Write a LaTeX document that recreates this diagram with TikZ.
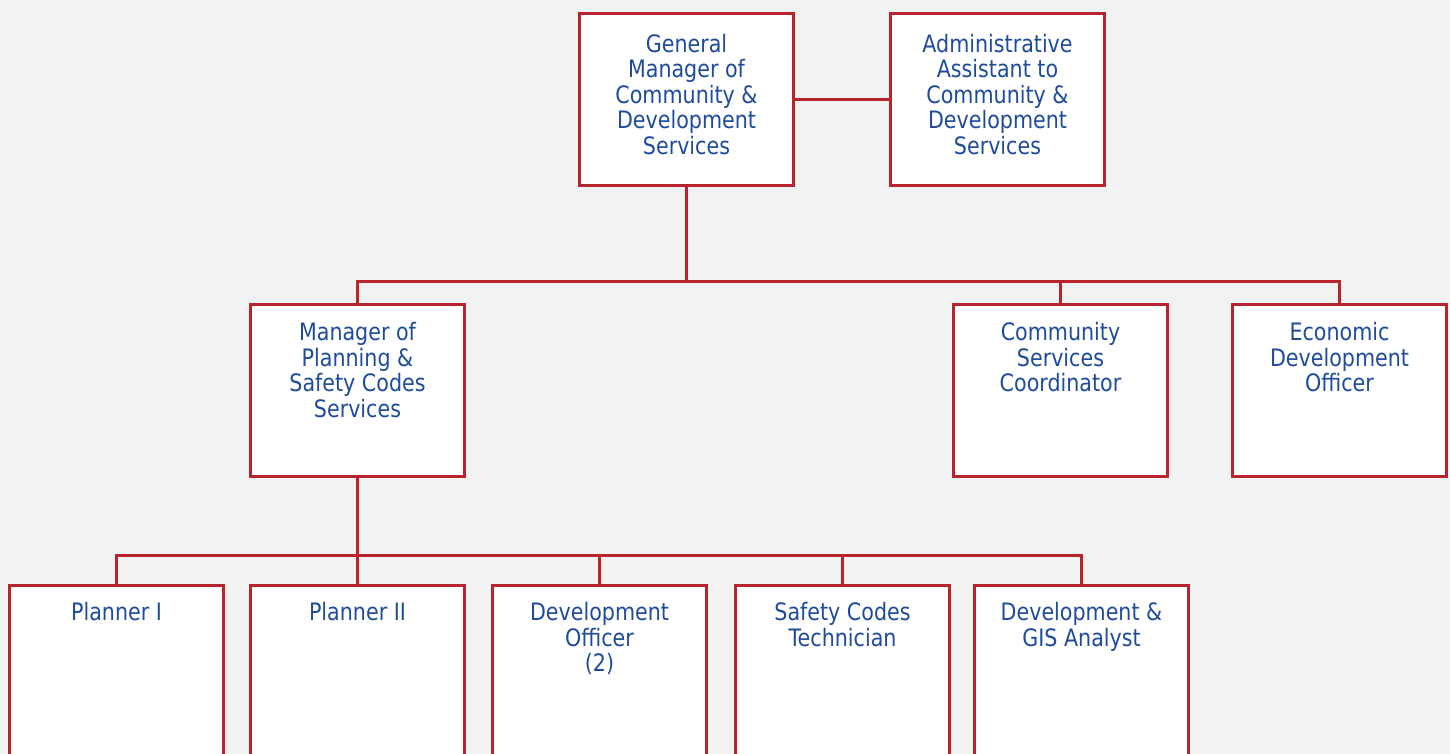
\documentclass[tikz,border=0pt]{standalone}
\usepackage{fontspec}
\setmainfont{DejaVu Sans}[FakeStretch=0.86]
\definecolor{boxred}{HTML}{B8242E}
\definecolor{txtblue}{HTML}{1F4B9C}
\definecolor{bg}{HTML}{F1F2F2}
\begin{document}
\begin{tikzpicture}[x=1pt,y=-1pt,
  box/.style={draw=boxred, line width=3pt, fill=white, minimum width=214pt, minimum height=172pt, inner sep=0pt, anchor=north west},
  tallbox/.style={box, minimum height=200pt},
  lbl/.style={text=txtblue, font=\fontsize{24}{25.5}\selectfont, align=center, anchor=north, inner sep=0pt},
  conn/.style={draw=boxred, line width=3pt}]
\useasboundingbox (0,0) rectangle (1450,754);
\fill[bg] (0,0) rectangle (1450,754);
\clip (0,0) rectangle (1450,754);
% boxes
\node[box] (gm) at (578,12) {};
\node[box] (aa) at (889,12) {};
\node[box] (mp) at (249,303) {};
\node[box] (cs) at (952,303) {};
\node[box] (eco) at (1231,303) {};
\node[tallbox] (p1) at (8,584) {};
\node[tallbox] (p2) at (249,584) {};
\node[tallbox] (do) at (491,584) {};
\node[tallbox] (sct) at (734,584) {};
\node[tallbox] (gis) at (973,584) {};
% labels
\node[lbl] (gm-t) at ([yshift=-22pt]gm.north) {\rule{0pt}{18pt}General\\Manager of\\Community \&\\Development\\Services};
\node[lbl] (aa-t) at ([yshift=-22pt]aa.north) {\rule{0pt}{18pt}Administrative\\Assistant to\\Community \&\\Development\\Services};
\node[lbl] (mp-t) at ([yshift=-19.5pt]mp.north) {\rule{0pt}{18pt}Manager of\\Planning \&\\Safety Codes\\Services};
\node[lbl] (cs-t) at ([yshift=-19.5pt]cs.north) {\rule{0pt}{18pt}Community\\Services\\Coordinator};
\node[lbl] (eco-t) at ([yshift=-19.5pt]eco.north) {\rule{0pt}{18pt}Economic\\Development\\Officer};
\node[lbl] (p1-t) at ([yshift=-18.5pt]p1.north) {\rule{0pt}{18pt}Planner I};
\node[lbl] (p2-t) at ([yshift=-18.5pt]p2.north) {\rule{0pt}{18pt}Planner II};
\node[lbl] (do-t) at ([yshift=-18.5pt]do.north) {\rule{0pt}{18pt}Development\\Officer\\(2)};
\node[lbl] (sct-t) at ([yshift=-18.5pt]sct.north) {\rule{0pt}{18pt}Safety Codes\\Technician};
\node[lbl] (gis-t) at ([yshift=-18.5pt]gis.north) {\rule{0pt}{18pt}Development \&\\GIS Analyst};
% connectors
\coordinate (bus1) at (0,281);
\coordinate (bus2) at (0,555);
\draw[conn] (gm.east) -- (aa.west);
\draw[conn] (gm.south) -- (gm.south |- bus1);
\draw[conn, line cap=rect] (mp.north) -- (mp.north |- bus1) -| (eco.north);
\draw[conn] (cs.north) -- (cs.north |- bus1);
\draw[conn] (mp.south) -- (mp.south |- bus2);
\draw[conn] (p1.north) -- (p1.north |- bus2) -| (gis.north);
\draw[conn] (p2.north) -- (p2.north |- bus2);
\draw[conn] (do.north) -- (do.north |- bus2);
\draw[conn] (sct.north) -- (sct.north |- bus2);
\end{tikzpicture}
\end{document}
